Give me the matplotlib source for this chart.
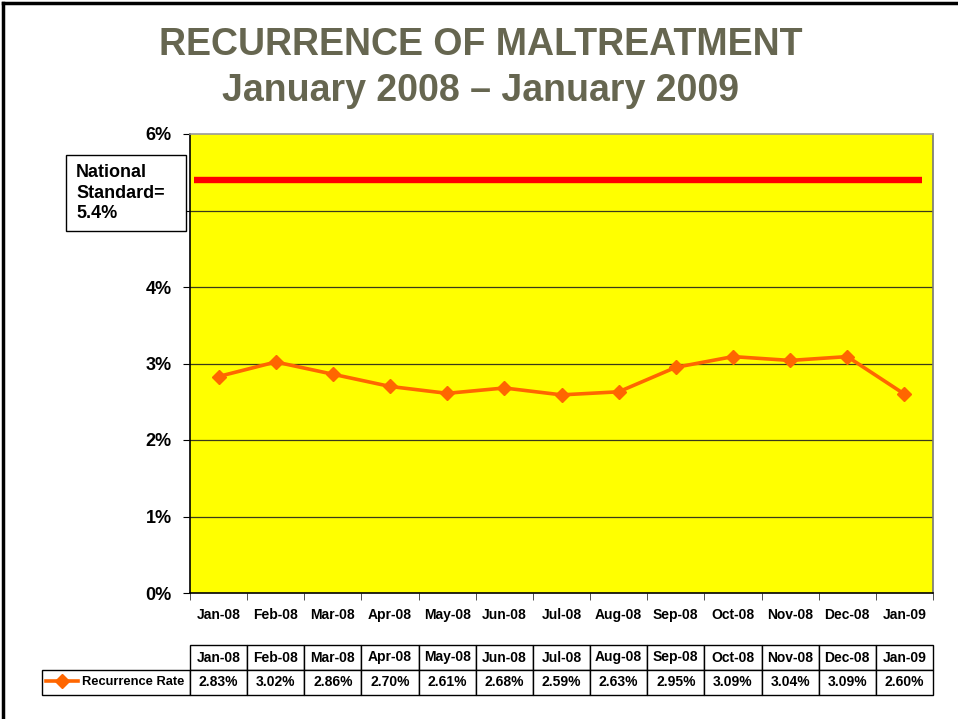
import numpy as np
import matplotlib
matplotlib.use("Agg")
import matplotlib.pyplot as plt
from matplotlib.lines import Line2D
from matplotlib.patches import Rectangle

plt.rcParams['font.family'] = ['Liberation Sans', 'DejaVu Sans']

months = ['Jan-08', 'Feb-08', 'Mar-08', 'Apr-08', 'May-08', 'Jun-08', 'Jul-08',
          'Aug-08', 'Sep-08', 'Oct-08', 'Nov-08', 'Dec-08', 'Jan-09']
rates = [2.83, 3.02, 2.86, 2.70, 2.61, 2.68, 2.59, 2.63, 2.95, 3.09, 3.04, 3.09, 2.60]
national_standard = 5.4
y_ticks = [0, 1, 2, 3, 4, 5, 6]
y_labels = ['0%', '1%', '2%', '3%', '4%', '', '6%']  # 5% sits under the standard box

W, H = 958, 719
fig = plt.figure(figsize=(W / 100, H / 100), dpi=100)
fig.patch.set_facecolor('white')

# slide border (top and left)
fig.add_artist(Line2D([3 / W, 3 / W], [0, 1 - 3 / H], color='black', lw=2.5))
fig.add_artist(Line2D([3 / W, 1], [1 - 3 / H, 1 - 3 / H], color='black', lw=2.5))

title_color = '#666650'
fig.text(481 / W, 1 - 45 / H, 'RECURRENCE OF MALTREATMENT', ha='center', va='center',
         fontsize=27, fontweight='bold', color=title_color)
fig.text(481 / W, 1 - 91 / H, 'January 2008 \u2013 January 2009', ha='center', va='center',
         fontsize=27, fontweight='bold', color=title_color)

x0, x1, ytop, ybot = 190, 933, 134, 593
ax = fig.add_axes([x0 / W, 1 - ybot / H, (x1 - x0) / W, (ybot - ytop) / H])
ax.set_facecolor('#FFFF00')

x = np.arange(len(months))
ax.set_xlim(-0.5, len(months) - 0.5)
ax.set_ylim(0, 6)

for y in y_ticks[1:-1]:
    ax.axhline(y, color='#3a3a1a', lw=0.9, zorder=1)

ax.axhline(national_standard, xmin=0.006, xmax=0.985, color='#FF0000', lw=4.6,
           solid_capstyle='butt', zorder=2)
line, = ax.plot(x, rates, color='#FF6600', lw=2.6, marker='D', markersize=7.5,
                zorder=3, label='Recurrence Rate')

ax.set_yticks(y_ticks)
ax.set_yticklabels(y_labels, fontsize=13, fontweight='bold')
ax.set_xticks(x)
ax.set_xticklabels(months, fontsize=10, fontweight='bold')
ax.set_xticks(np.arange(-0.5, len(months)), minor=True)
ax.tick_params(axis='x', which='major', length=0, pad=11)
ax.tick_params(axis='x', which='minor', length=5, direction='out', color='#333333')
ax.tick_params(axis='y', length=5, direction='out', pad=8)

ax.spines['left'].set_color('black')
ax.spines['bottom'].set_color('black')
ax.spines['top'].set_color('#999999')
ax.spines['right'].set_color('#777777')
for s in ax.spines.values():
    s.set_linewidth(1.2)

# National standard box
fig.add_artist(Rectangle((66 / W, 1 - 231 / H), 120 / W, 76 / H, facecolor='white',
                         edgecolor='black', lw=1, zorder=5))
fig.text(76 / W, 1 - 193 / H, 'National\nStandard=\n5.4%', ha='left', va='center',
         fontsize=13, fontweight='bold', linespacing=1.3, zorder=6)

# data table under the chart
tab_top, tab_bot = 645, 695
tab = ax.table(cellText=[[f'{r:.2f}%' for r in rates]], colLabels=months,
               cellLoc='center', colLoc='center',
               bbox=[0, -(tab_bot - ybot) / (ybot - ytop), 1, (tab_bot - tab_top) / (ybot - ytop)])
col_w = tab[1, 0].get_width()
tab.add_cell(1, -1, width=col_w * 148 / ((x1 - x0) / len(months)),
             height=tab[1, 0].get_height(), text='')
tab.auto_set_font_size(False)
tab.set_fontsize(10)
for cell in tab.get_celld().values():
    cell.get_text().set_fontweight('bold')
    cell.set_linewidth(1)
    cell.set_edgecolor('black')

ax.legend(handles=[line], loc='center left', frameon=False,
          bbox_to_anchor=((43 - x0) / (x1 - x0), -(682 - ybot) / (ybot - ytop)),
          prop={'weight': 'bold', 'size': 9.3}, handlelength=2.5, handletextpad=0.3,
          borderaxespad=0.0, borderpad=0.2)

fig.savefig('out.png', dpi=100)
